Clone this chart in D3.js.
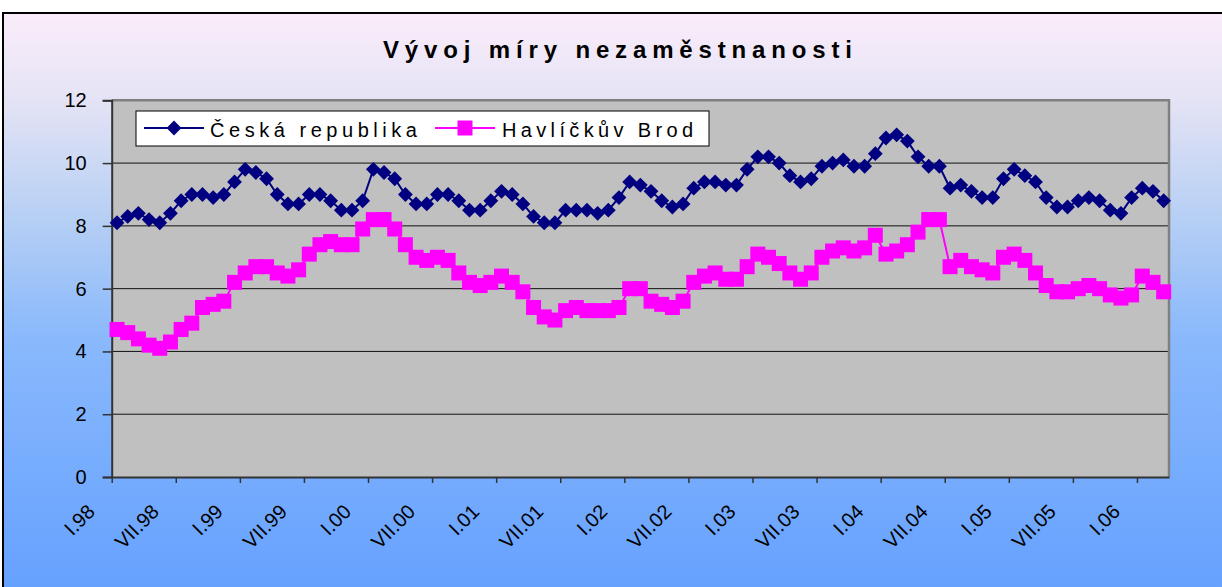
<!DOCTYPE html>
<html>
<head>
<meta charset="utf-8">
<script src="https://cdn.jsdelivr.net/npm/d3@7"></script>
<style>
  html, body { margin: 0; padding: 0; background: #fff; }
  svg { display: block; font-family: Arial, "Liberation Sans", sans-serif; }
</style>
</head>
<body>
<div id="chart"></div>
<script>
const WIDTH = 1222;
const HEIGHT = 587;

const TITLE = 'Vývoj míry nezaměstnanosti';
const SERIES_NAMES = ['Česká republika', 'Havlíčkův Brod'];

// labels every 6 months, I.98 ... I.06
const tickLabels = ['I.98', 'VII.98', 'I.99', 'VII.99', 'I.00', 'VII.00', 'I.01', 'VII.01',
    'I.02', 'VII.02', 'I.03', 'VII.03', 'I.04', 'VII.04', 'I.05', 'VII.05', 'I.06'];

// monthly values, I.1998 - III.2006
const ceskaRepublika = [
    8.1, 8.3, 8.4, 8.2, 8.1, 8.4, 8.8, 9.0, 9.0, 8.9,
    9.0, 9.4, 9.8, 9.7, 9.5, 9.0, 8.7, 8.7, 9.0, 9.0,
    8.8, 8.5, 8.5, 8.8, 9.8, 9.7, 9.5, 9.0, 8.7, 8.7,
    9.0, 9.0, 8.8, 8.5, 8.5, 8.8, 9.1, 9.0, 8.7, 8.3,
    8.1, 8.1, 8.5, 8.5, 8.5, 8.4, 8.5, 8.9, 9.4, 9.3,
    9.1, 8.8, 8.6, 8.7, 9.2, 9.4, 9.4, 9.3, 9.3, 9.8,
    10.2, 10.2, 10.0, 9.6, 9.4, 9.5, 9.9, 10.0, 10.1, 9.9,
    9.9, 10.3, 10.8, 10.9, 10.7, 10.2, 9.9, 9.9, 9.2, 9.3,
    9.1, 8.9, 8.9, 9.5, 9.8, 9.6, 9.4, 8.9, 8.6, 8.6,
    8.8, 8.9, 8.8, 8.5, 8.4, 8.9, 9.2, 9.1, 8.8
];

const havlickuvBrod = [
    4.7, 4.6, 4.4, 4.2, 4.1, 4.3, 4.7, 4.9, 5.4, 5.5,
    5.6, 6.2, 6.5, 6.7, 6.7, 6.5, 6.4, 6.6, 7.1, 7.4,
    7.5, 7.4, 7.4, 7.9, 8.2, 8.2, 7.9, 7.4, 7.0, 6.9,
    7.0, 6.9, 6.5, 6.2, 6.1, 6.2, 6.4, 6.2, 5.9, 5.4,
    5.1, 5.0, 5.3, 5.4, 5.3, 5.3, 5.3, 5.4, 6.0, 6.0,
    5.6, 5.5, 5.4, 5.6, 6.2, 6.4, 6.5, 6.3, 6.3, 6.7,
    7.1, 7.0, 6.8, 6.5, 6.3, 6.5, 7.0, 7.2, 7.3, 7.2,
    7.3, 7.7, 7.1, 7.2, 7.4, 7.8, 8.2, 8.2, 6.7, 6.9,
    6.7, 6.6, 6.5, 7.0, 7.1, 6.9, 6.5, 6.1, 5.9, 5.9,
    6.0, 6.1, 6.0, 5.8, 5.7, 5.8, 6.4, 6.2, 5.9
];

const yTicks = [0, 2, 4, 6, 8, 10, 12];

const PLOT = { left: 111.7, right: 1169, top: 100.3, bottom: 477 };
const BLUE = '#000080';
const PINK = '#ff00ff';

var svg = d3.select('#chart')
    .append('svg')
    .attr('width', WIDTH)
    .attr('height', HEIGHT);

// background gradient
var grad = svg.append('defs')
    .append('linearGradient')
    .attr('id', 'bg')
    .attr('x1', 0).attr('y1', 0)
    .attr('x2', 0).attr('y2', 1);
[[0, '#fbedfa'], [0.15, '#e4e3f5'], [0.35, '#b6cff4'], [0.55, '#8ab9fc'], [1, '#64a0ff']]
    .forEach(s => grad.append('stop').attr('offset', s[0]).attr('stop-color', s[1]));

svg.append('rect')
    .attr('x', 3).attr('y', 13)
    .attr('width', WIDTH).attr('height', HEIGHT)
    .attr('fill', 'url(#bg)');

// chart area border (top and left visible)
svg.append('path')
    .attr('d', `M3,${HEIGHT} V13 H${WIDTH}`)
    .attr('fill', 'none')
    .attr('stroke', '#000')
    .attr('stroke-width', 2);

function fitSpacing(sel, target) {
    let n = sel.text().length;
    let w = sel.node().getComputedTextLength();
    sel.attr('letter-spacing', ((target - w) / (n - 1)).toFixed(2));
}

// title
var title = svg.append('text')
    .attr('x', 383)
    .attr('y', 58)
    .attr('font-size', 24)
    .attr('font-weight', 'bold')
    .attr('fill', '#000')
    .text(TITLE);
fitSpacing(title, 469);

// scales
var n = ceskaRepublika.length;
var x = d3.scaleLinear().domain([0, n]).range([PLOT.left, PLOT.right]);
var y = d3.scaleLinear().domain([0, 12]).range([PLOT.bottom, PLOT.top]);

// plot area
svg.append('rect')
    .attr('x', PLOT.left).attr('y', PLOT.top)
    .attr('width', PLOT.right - PLOT.left)
    .attr('height', PLOT.bottom - PLOT.top)
    .attr('fill', '#c0c0c0');

svg.append('g')
    .selectAll('line')
    .data(yTicks.filter(v => v > 0 && v < 12))
    .enter()
    .append('line')
    .attr('x1', PLOT.left).attr('x2', PLOT.right)
    .attr('y1', d => y(d)).attr('y2', d => y(d))
    .attr('stroke', '#111')
    .attr('stroke-width', 1);

// grey frame top + right
svg.append('path')
    .attr('d', `M${PLOT.left},${PLOT.top} H${PLOT.right} V${PLOT.bottom}`)
    .attr('fill', 'none')
    .attr('stroke', '#808080')
    .attr('stroke-width', 2.5);

// y axis
var yAxis = d3.axisLeft(y)
    .tickValues(yTicks)
    .tickSize(9)
    .tickPadding(16)
    .tickFormat(d3.format('d'));
var yg = svg.append('g')
    .attr('transform', `translate(${PLOT.left},0)`)
    .call(yAxis);
yg.select('.domain').attr('stroke', '#333').attr('stroke-width', 2);
yg.selectAll('.tick line').attr('stroke', '#333').attr('stroke-width', 1.5);
yg.selectAll('.tick text')
    .attr('font-size', 20)
    .attr('font-family', 'Arial, "Liberation Sans", sans-serif')
    .attr('fill', '#000');

// x axis
var tickIdx = tickLabels.map((t, i) => i * 6);
var xAxis = d3.axisBottom(x)
    .tickValues(tickIdx)
    .tickSize(6)
    .tickSizeOuter(0)
    .tickFormat('');
var xg = svg.append('g')
    .attr('transform', `translate(0,${PLOT.bottom})`)
    .call(xAxis);
xg.select('.domain').attr('stroke', '#333').attr('stroke-width', 2);
xg.selectAll('.tick line').attr('stroke', '#333').attr('stroke-width', 1.5);

svg.append('g')
    .selectAll('text')
    .data(tickLabels)
    .enter()
    .append('text')
    .attr('transform', (d, i) => `translate(${x(i * 6 + 0.5) - 21},${PLOT.bottom + 36}) rotate(-45)`)
    .attr('text-anchor', 'end')
    .attr('font-size', 20)
    .attr('fill', '#000')
    .text(d => d);

// series
var line = d3.line()
    .x((d, i) => x(i + 0.5))
    .y(d => y(d));

svg.append('path')
    .datum(havlickuvBrod)
    .attr('d', line)
    .attr('fill', 'none')
    .attr('stroke', PINK)
    .attr('stroke-width', 2);

svg.append('g')
    .selectAll('rect')
    .data(havlickuvBrod)
    .enter()
    .append('rect')
    .attr('x', (d, i) => x(i + 0.5) - 7.5)
    .attr('y', d => y(d) - 7.5)
    .attr('width', 15)
    .attr('height', 15)
    .attr('fill', PINK);

svg.append('path')
    .datum(ceskaRepublika)
    .attr('d', line)
    .attr('fill', 'none')
    .attr('stroke', BLUE)
    .attr('stroke-width', 2);

var diamond = d3.symbol().type(d3.symbolDiamond2).size(140);
svg.append('g')
    .selectAll('path')
    .data(ceskaRepublika)
    .enter()
    .append('path')
    .attr('transform', (d, i) => `translate(${x(i + 0.5)},${y(d)})`)
    .attr('d', diamond)
    .attr('fill', BLUE);

// legend
var legend = svg.append('g');
legend.append('rect')
    .attr('x', 136).attr('y', 111)
    .attr('width', 573).attr('height', 35)
    .attr('fill', '#fff')
    .attr('stroke', '#000')
    .attr('stroke-width', 1);

var legendItems = [
    { name: SERIES_NAMES[0], color: BLUE, lx: 144, tx: 210, tw: 207, marker: 'diamond' },
    { name: SERIES_NAMES[1], color: PINK, lx: 435, tx: 502, tw: 191, marker: 'square' }
];
legendItems.forEach(it => {
    legend.append('line')
        .attr('x1', it.lx).attr('x2', it.lx + 60)
        .attr('y1', 128).attr('y2', 128)
        .attr('stroke', it.color)
        .attr('stroke-width', 2);
    if (it.marker == 'diamond') {
        legend.append('path')
            .attr('transform', `translate(${it.lx + 30},128)`)
            .attr('d', diamond)
            .attr('fill', it.color);
    } else {
        legend.append('rect')
            .attr('x', it.lx + 22.5).attr('y', 120.5)
            .attr('width', 15).attr('height', 15)
            .attr('fill', it.color);
    }
    let t = legend.append('text')
        .attr('x', it.tx)
        .attr('y', 137)
        .attr('font-size', 20)
        .attr('fill', '#000')
        .text(it.name);
    fitSpacing(t, it.tw);
});
</script>
</body>
</html>
